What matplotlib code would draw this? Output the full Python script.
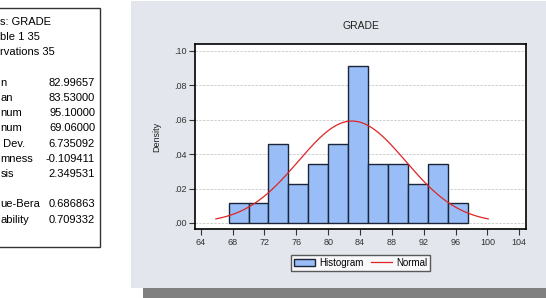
import numpy as np
import matplotlib.pyplot as plt
from matplotlib.patches import Rectangle

# histogram bins (width 2.5) and densities
bin_edges = [67.5, 70.0, 72.5, 75.0, 77.5, 80.0, 82.5, 85.0, 87.5, 90.0, 92.5, 95.0, 97.5]
densities = [0.0114, 0.0114, 0.0457, 0.0229, 0.0343, 0.0457, 0.0914,
             0.0343, 0.0343, 0.0229, 0.0343, 0.0114]

# summary statistics box (only the visible part of the labels)
stat_labels = ["s: GRADE", "ble 1 35", "rvations 35", "",
               "n", "an", "num", "num", " Dev.",
               "mness", "sis", "", "ue-Bera", "ability"]
stat_values = ["", "", "", "",
               "82.99657", "83.53000", "95.10000", "69.06000", "6.735092",
               "-0.109411", "2.349531", "", "0.686863", "0.709332"]

mean = 82.99657
std = 6.735092
curve_lo, curve_hi = 65.9, 100.1

x_ticks = np.arange(64, 105, 4)
y_ticks = [0.00, 0.02, 0.04, 0.06, 0.08, 0.10]
y_tick_labels = [".00", ".02", ".04", ".06", ".08", ".10"]

W, H = 546, 298
fig = plt.figure(figsize=(W / 100, H / 100), dpi=100)
fig.patch.set_facecolor("white")
plt.rcParams["font.family"] = ["Liberation Sans", "DejaVu Sans"]


def fx(px):
    return px / W


def fy(py):
    return 1 - py / H


# stats box (its left part falls outside the image)
fig.patches.append(Rectangle((fx(-10), fy(247)), fx(110), fy(8) - fy(247),
                             transform=fig.transFigure, facecolor="white",
                             edgecolor="#333333", linewidth=1.0, zorder=-2))
for i, (lab, val) in enumerate(zip(stat_labels, stat_values)):
    y = fy(22 + i * 15.2)
    if lab:
        fig.text(fx(0.5), y, lab, fontsize=8, va="center", ha="left")
    if val:
        fig.text(fx(95), y, val, fontsize=8, va="center", ha="right")

# graph panel and shadow
fig.patches.append(Rectangle((fx(143), fy(298)), fx(410), fy(288) - fy(298),
                             transform=fig.transFigure, facecolor="#808080",
                             edgecolor="none", zorder=-2))
fig.patches.append(Rectangle((fx(131), fy(288)), fx(420), fy(1) - fy(288),
                             transform=fig.transFigure, facecolor="#e3e6ec",
                             edgecolor="none", zorder=-2))

ax = fig.add_axes([fx(195), fy(229), fx(526 - 195), fy(44) - fy(229)])
ax.set_facecolor("white")

widths = np.diff(bin_edges)
bars = ax.bar(bin_edges[:-1], densities, width=widths, align="edge",
              color="#99bdf7", edgecolor="#1c2538", linewidth=1.0,
              label="Histogram", zorder=2)

xs = np.linspace(curve_lo, curve_hi, 300)
pdf = np.exp(-0.5 * ((xs - mean) / std) ** 2) / (std * np.sqrt(2 * np.pi))
line, = ax.plot(xs, pdf, color="#e02424", linewidth=0.9, label="Normal", zorder=3)

ax.set_xlim(63.28, 104.84)
ax.set_ylim(-0.0035, 0.104)
ax.set_xticks(x_ticks)
ax.set_yticks(y_ticks)
ax.set_yticklabels(y_tick_labels)
ax.tick_params(direction="out", length=4, width=0.8, labelsize=6.5, pad=2,
               colors="#333333")
ax.tick_params(axis="x", pad=2.5)
ax.grid(axis="y", color="#c8c8c8", linestyle=(0, (3, 1.5)), linewidth=0.6, zorder=0)
for s in ax.spines.values():
    s.set_linewidth(1.2)
    s.set_color("black")

ax.set_title("GRADE", fontsize=7.5, pad=11, color="#222222")
ax.set_ylabel("Density", fontsize=6.5, labelpad=9, color="#222222")

leg = ax.legend([bars, line], ["Histogram", "Normal"], loc="center",
                bbox_to_anchor=(0.5, (fy(263) - fy(229)) / (fy(44) - fy(229))),
                ncol=2, fontsize=7, frameon=True, fancybox=False,
                handlelength=2.2, handleheight=0.8, columnspacing=0.8,
                handletextpad=0.4, borderpad=0.3)
leg.get_frame().set_edgecolor("#333333")
leg.get_frame().set_linewidth(1.0)
leg.get_frame().set_facecolor("white")

fig.savefig("out.png", dpi=100)
